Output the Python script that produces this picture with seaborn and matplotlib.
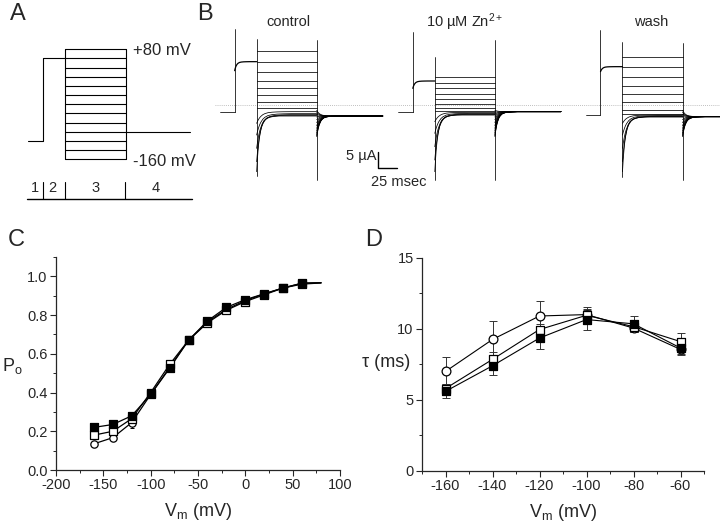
import numpy as np
import pandas as pd
import matplotlib
matplotlib.use("Agg")
import matplotlib.pyplot as plt
from matplotlib.ticker import MultipleLocator, FormatStrFormatter
import seaborn as sns

# ---------------- data ----------------
# Panel A: voltage protocol (mV) and segment times (arbitrary ms units)
hold_mv = -120
prepulse_mv = 60
test_mv = [80, 60, 40, 20, 0, -20, -40, -60, -80, -100, -120, -140, -160]
tail_mv = -100
prot_times = [0, 15, 37, 98, 162]          # hold start, prepulse, test, tail, end
segment_labels = ["1", "2", "3", "4"]
segment_label_t = [7, 24, 68, 128]

# Panel B: current traces (µA), times in ms
sweep_names = ["control", "10 µM Zn$^{2+}$", "wash"]
sweep_start = [0, 243, 499]
seg_dur = [20, 30, 82, 90]                  # hold, prepulse, test, tail
hold_uA = [-2.2, -2.0, -3.0]
pre_spike_uA = [22.7, 22.0, 22.5]
pre_init_uA = [10.3, 5.0, 10.0]
pre_level_uA = [13.0, 7.2, 11.5]
test_on_spike = [(19.7, -21.3), (14.3, -22.5), (19.0, -21.7)]
test_off_spike = [(19.5, -22.5), (19.5, -22.5), (18.7, -22.5)]
ctrl_test_ss = [16.2, 13.0, 10.0, 7.3, 5.2, 3.0, 1.0, -0.8, -2.0, -2.6, -2.9, -3.1, -3.3]
zn_test_ss = [8.5, 6.7, 5.0, 3.3, 1.7, 0.3, -1.0, -1.8, -2.2, -2.5, -2.7, -2.9, -3.0]
wash_test_ss = [14.3, 11.3, 8.3, 5.7, 3.2, 1.0, -1.5, -2.7, -3.0, -3.2, -3.4, -3.5, -3.6]
ctrl_test_init = [16.2, 13.0, 10.0, 7.3, 5.2, 3.0, 1.0, -0.8, -5.5, -9.0, -13.0, -17.0, -20.0]
zn_test_init = [8.5, 6.7, 5.0, 3.3, 1.7, 0.3, -1.0, -1.8, -5.0, -8.5, -12.5, -16.5, -20.0]
wash_test_init = [14.3, 11.3, 8.3, 5.7, 3.2, 1.0, -1.5, -2.7, -5.5, -9.0, -13.0, -17.0, -20.0]
inward_tscale = [1, 1, 1, 1, 1, 1, 1, 1, 1.4, 1.4, 1.3, 1.1, 0.9]
tail_init_uA = [-9.5, -9.2, -8.8, -8.3, -7.7, -7.0, -6.2, -5.3, -4.4, -3.6, -2.8, -2.2, -1.6]
tail_end_uA = [-3.3, -2.0, -3.5]
relax_t = [0, 1, 2, 3, 4, 6, 8, 11, 15, 20, 26, 34]
relax_f = [1, .8, .64, .51, .41, .26, .17, .09, .045, .02, .008, 0]

# Panel C: open probability
c_v = [-160, -140, -120, -100, -80, -60, -40, -20, 0, 20, 40, 60]
c_filled = [0.22, 0.235, 0.28, 0.39, 0.525, 0.67, 0.77, 0.84, 0.88, 0.91, 0.94, 0.96]
c_open_sq = [0.18, 0.20, 0.265, 0.40, 0.545, 0.67, 0.76, 0.825, 0.87, 0.905, 0.94, 0.965]
c_circle = [0.135, 0.167, 0.245, 0.39, 0.53, 0.67, 0.765, 0.83, 0.875, 0.91, 0.94, 0.965]
c_filled_err = [0.015, 0.012, 0.012, 0.015, 0.015, 0.012, 0.012, 0.012, 0.012, 0.012, 0.01, 0.01]
c_open_sq_err = [0.02, 0.02, 0.02, 0.02, 0.02, 0.015, 0.015, 0.015, 0.015, 0.015, 0.015, 0.012]
c_circle_err = [0.015, 0.015, 0.03, 0.02, 0.015, 0.012, 0.012, 0.012, 0.012, 0.012, 0.012, 0.012]
c_line_end_v = 80
c_line_end_p = [0.966, 0.967, 0.967]

# Panel D: time constant
d_v = [-160, -140, -120, -100, -80, -60]
d_circle = [7.0, 9.25, 10.9, 11.0, 10.05, 8.55]
d_open_sq = [5.8, 7.85, 9.95, 10.95, 10.15, 9.1]
d_filled = [5.6, 7.4, 9.35, 10.65, 10.35, 8.65]
d_circle_err = [1.0, 1.3, 1.05, 0.4, 0.3, 0.3]
d_open_sq_err = [0.35, 0.5, 0.4, 0.6, 0.4, 0.6]
d_filled_err = [0.5, 0.65, 0.8, 0.7, 0.55, 0.5]

# ---------------- style ----------------
sns.set_style("ticks")
plt.rcParams['font.family'] = ['Liberation Sans', 'DejaVu Sans']
plt.rcParams['mathtext.fontset'] = 'custom'
plt.rcParams['mathtext.rm'] = 'Liberation Sans'
plt.rcParams['mathtext.it'] = 'Liberation Sans:italic'
plt.rcParams['mathtext.default'] = 'regular'
plt.rcParams['axes.unicode_minus'] = False

W, H = 720, 527
fig = plt.figure(figsize=(7.2, 5.27), dpi=100)

def px_axes(x0, y0, x1, y1):
    return fig.add_axes([x0 / W, 1 - y1 / H, (x1 - x0) / W, (y1 - y0) / H])

LW = 0.8
# ---------------- Panel A ----------------
axA = px_axes(0, 0, 210, 215)
axA.set_xlim(-28, 182)
axA.set_ylim(-281.6, 187.6)
axA.axis('off')
t_h, t_p, t_t, t_tl, t_e = prot_times
axA.plot([t_h, t_p, t_p, t_t], [hold_mv, hold_mv, prepulse_mv, prepulse_mv], color='k', lw=LW)
for v in test_mv:
    axA.plot([t_t, t_tl], [v, v], color='k', lw=LW)
axA.plot([t_t, t_t], [min(test_mv), max(test_mv)], color='k', lw=LW)
axA.plot([t_tl, t_tl], [min(test_mv), max(test_mv)], color='k', lw=LW)
axA.plot([t_tl, t_e], [tail_mv, tail_mv], color='k', lw=LW)
axA.text(t_tl + 7, max(test_mv) - 3, "+80 mV", fontsize=12, va='center', ha='left')
axA.text(t_tl + 7, min(test_mv) - 5, "-160 mV", fontsize=12, va='center', ha='left')
tl_y = -246.6
axA.plot([t_h - 1, t_e + 2], [tl_y, tl_y], color='k', lw=1.0)
for tt in [t_p, t_t - 0.5, t_tl - 1]:
    axA.plot([tt, tt], [tl_y, -209.5], color='k', lw=LW)
for lab, tt in zip(segment_labels, segment_label_t):
    axA.text(tt, -222, lab, fontsize=10.5, ha='center', va='center')

# ---------------- Panel B ----------------
axB = px_axes(215, 0, 720, 215)
axB.set_xlim(-6.8, 682)
axB.set_ylim(-33, 31.5)
axB.axis('off')
axB.plot([-6.8, 682], [0, 0], color='#aaaaaa', lw=0.6, ls=(0, (1, 1.5)))
rt = np.array(relax_t, dtype=float)
rf = np.array(relax_f, dtype=float)
test_ss_all = [ctrl_test_ss, zn_test_ss, wash_test_ss]
test_init_all = [ctrl_test_init, zn_test_init, wash_test_init]
TLW = 0.55
for k in range(3):
    t0 = sweep_start[k]
    tp = t0 + seg_dur[0]
    tt = tp + seg_dur[1]
    te = tt + seg_dur[2]
    tend = te + seg_dur[3]
    axB.plot([t0, tp], [hold_uA[k], hold_uA[k]], color='k', lw=TLW)
    axB.plot([tp, tp], [hold_uA[k], pre_spike_uA[k]], color='k', lw=TLW)
    pt = np.concatenate([tp + rt * 0.6, [tt]])
    pv = np.concatenate([pre_level_uA[k] + (pre_init_uA[k] - pre_level_uA[k]) * rf, [pre_level_uA[k]]])
    axB.plot(pt, pv, color='k', lw=0.9)
    axB.plot([tt, tt], [test_on_spike[k][1], test_on_spike[k][0]], color='k', lw=TLW)
    axB.plot([te, te], [test_off_spike[k][1], test_off_spike[k][0]], color='k', lw=TLW)
    for i in range(len(test_mv)):
        ss = test_ss_all[k][i]
        ini = test_init_all[k][i]
        xt = np.concatenate([tt + rt * inward_tscale[i], [te]])
        yv = np.concatenate([ss + (ini - ss) * rf, [ss]])
        axB.plot(xt, yv, color='k', lw=TLW)
        xt2 = np.concatenate([te + rt * 0.9, [tend]])
        yv2 = np.concatenate([tail_end_uA[k] + (tail_init_uA[i] - tail_end_uA[k]) * rf, [tail_end_uA[k]]])
        axB.plot(xt2, yv2, color='k', lw=TLW)
label_t = [93, 334, 588]
for k in range(3):
    axB.text(label_t[k], 24.8, sweep_names[k], fontsize=10.5, ha='center', va='center')
# scale bar
sb_t, sb_y = 216, -19
axB.plot([sb_t, sb_t, sb_t + 25], [sb_y + 5, sb_y, sb_y], color='k', lw=1.0)
axB.text(sb_t - 3, -15.3, "5 µA", fontsize=10.5, ha='right', va='center')
axB.text(244, -23.2, "25 msec", fontsize=10.5, ha='center', va='center')

# ---------------- Panel C ----------------
axC = px_axes(56, 257, 340, 470)
dfC = pd.DataFrame({
    'V': c_v * 3,
    'P': c_filled + c_open_sq + c_circle,
    'err': c_filled_err + c_open_sq_err + c_circle_err,
    'cond': ['filled'] * 12 + ['open_sq'] * 12 + ['circle'] * 12,
})
for j, cond in enumerate(['filled', 'open_sq', 'circle']):
    sub = dfC[dfC.cond == cond]
    line_df = pd.DataFrame({'V': list(sub.V) + [c_line_end_v], 'P': list(sub.P) + [c_line_end_p[j]]})
    sns.lineplot(data=line_df, x='V', y='P', ax=axC, color='k', lw=0.9, legend=False, zorder=1)
marker_spec = {'filled': ('s', 'k'), 'open_sq': ('s', 'white'), 'circle': ('o', 'white')}
for cond in ['circle', 'open_sq', 'filled']:
    sub = dfC[dfC.cond == cond]
    m, fc = marker_spec[cond]
    axC.errorbar(sub.V, sub.P, yerr=sub.err, fmt='none', ecolor='k', elinewidth=0.7, capsize=1.5, capthick=0.7, zorder=2)
    sns.scatterplot(data=sub, x='V', y='P', ax=axC, marker=m, s=28, color=fc, edgecolor='k', linewidth=0.9, zorder=3, legend=False)
axC.set_xlim(-200, 100)
axC.set_ylim(0, 1.1)
axC.xaxis.set_major_locator(MultipleLocator(50))
axC.xaxis.set_minor_locator(MultipleLocator(25))
axC.yaxis.set_major_locator(MultipleLocator(0.2))
axC.yaxis.set_minor_locator(MultipleLocator(0.1))
axC.yaxis.set_major_formatter(FormatStrFormatter('%.1f'))
axC.set_xlabel("V$_\\mathrm{m}$ (mV)", fontsize=13, labelpad=6)
axC.set_ylabel("P$_\\mathrm{o}$", fontsize=13, rotation=0, ha='center', va='center')
axC.yaxis.set_label_coords(-0.155, 0.49)

# ---------------- Panel D ----------------
axD = px_axes(422, 257.7, 704, 471)
dfD = pd.DataFrame({
    'V': d_v * 3,
    'tau': d_circle + d_open_sq + d_filled,
    'err': d_circle_err + d_open_sq_err + d_filled_err,
    'cond': ['circle'] * 6 + ['open_sq'] * 6 + ['filled'] * 6,
})
sns.lineplot(data=dfD, x='V', y='tau', units='cond', estimator=None, ax=axD, color='k', lw=0.8, legend=False, zorder=1)
for cond in ['circle', 'open_sq', 'filled']:
    sub = dfD[dfD.cond == cond]
    m, fc = marker_spec[cond]
    axD.errorbar(sub.V, sub.tau, yerr=sub.err, fmt='none', ecolor='#333333', elinewidth=0.7, capsize=3, capthick=0.7, zorder=2)
    sns.scatterplot(data=sub, x='V', y='tau', ax=axD, marker=m, s=40, color=fc, edgecolor='k', linewidth=0.9, zorder=3, legend=False)
axD.set_xlim(-170, -50)
axD.set_ylim(0, 15)
axD.xaxis.set_major_locator(MultipleLocator(20))
axD.xaxis.set_minor_locator(MultipleLocator(10))
axD.yaxis.set_major_locator(MultipleLocator(5))
axD.yaxis.set_minor_locator(MultipleLocator(2.5))
axD.set_xlabel("V$_\\mathrm{m}$ (mV)", fontsize=13, labelpad=6)
axD.set_ylabel("τ (ms)", fontsize=13, rotation=0, ha='center', va='center')
axD.yaxis.set_label_coords(-0.128, 0.508)

for ax in (axC, axD):
    sns.despine(ax=ax)
    for sp in ('left', 'bottom'):
        ax.spines[sp].set_linewidth(0.9)
    ax.tick_params(which='major', length=4, width=0.8, labelsize=10.5, direction='out', pad=2)
    ax.tick_params(which='minor', length=2.5, width=0.7, direction='out')

# panel letters
for lab, x, y in [("A", 10, 3), ("B", 197, 3), ("C", 8, 229), ("D", 365, 229)]:
    fig.text(x / W, 1 - y / H, lab, fontsize=17, ha='left', va='top')

fig.savefig("out.png", dpi=100)
